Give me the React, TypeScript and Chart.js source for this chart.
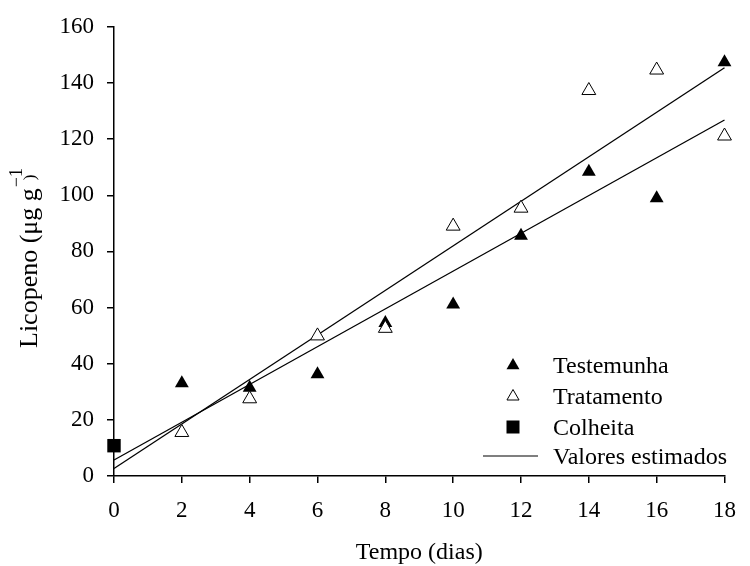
import React, { useEffect, useRef } from 'react';
import { Chart, registerables } from 'chart.js';
Chart.register(...registerables);

// ---- data ----
const days = [2, 4, 6, 8, 10, 12, 14, 16, 18];
const testemunha = [33, 31.4, 36.2, 54.5, 61.1, 85.6, 108.4, 98.9, 147.4];
const tratamento = [15.5, 27.5, 49.9, 52.6, 89, 95.4, 137.3, 144.6, 121.1];
const colheitaDays = [0];
const colheita = [10.8];
const lineDays = [0, 18];
const estimadoA = [2.7, 145.4];
const estimadoB = [5.7, 126.8];
const xTicks = [0, 2, 4, 6, 8, 10, 12, 14, 16, 18];
const yTicks = [0, 20, 40, 60, 80, 100, 120, 140, 160];
const xTitle = 'Tempo (dias)';
const yTitleMain = 'Licopeno (\u03bcg g';
const yTitleSup = '\u22121';
const yTitleEnd = ')';
const legendLabels = ['Testemunha', 'Tratamento', 'Colheita', 'Valores estimados'];

const FONT = '"Liberation Serif", "Times New Roman", serif';

const toPts = (xs: number[], ys: number[]) => xs.map((x, i) => ({ x, y: ys[i] }));

function drawTri(ctx: CanvasRenderingContext2D, cx: number, cy: number, r: number, fill: boolean) {
  const hw = r * Math.sqrt(3) / 2;
  ctx.beginPath();
  ctx.moveTo(cx, cy - r);
  ctx.lineTo(cx + hw, cy + r / 2);
  ctx.lineTo(cx - hw, cy + r / 2);
  ctx.closePath();
  if (fill) {
    ctx.fillStyle = '#000';
    ctx.fill();
  } else {
    ctx.fillStyle = '#fff';
    ctx.fill();
    ctx.strokeStyle = '#000';
    ctx.lineWidth = 1;
    ctx.stroke();
  }
}

const decorPlugin = {
  id: 'decor',
  afterDraw(chart: any) {
    const ctx: CanvasRenderingContext2D = chart.ctx;
    const area = chart.chartArea;
    ctx.save();
    ctx.fillStyle = '#000';
    ctx.textBaseline = 'alphabetic';
    // x title
    ctx.font = `24px ${FONT}`;
    ctx.textAlign = 'center';
    ctx.fillText(xTitle, (area.left + area.right) / 2, 559);
    // y title (rotated)
    ctx.save();
    ctx.translate(37, 348);
    ctx.rotate(-Math.PI / 2);
    ctx.textAlign = 'left';
    ctx.font = `26px ${FONT}`;
    ctx.fillText(yTitleMain, 0, 0);
    const w = ctx.measureText(yTitleMain).width;
    ctx.font = `18px ${FONT}`;
    ctx.fillText(yTitleSup, w + 1, -15);
    ctx.font = `17px ${FONT}`;
    ctx.fillText(yTitleEnd, w + 8, -2);
    ctx.restore();
    // legend
    const mx = 513;
    const tx = 553;
    const rows = [364.5, 395.5, 426.5, 456];
    drawTri(ctx, mx, rows[0] + 1, 7.5, true);
    drawTri(ctx, mx, rows[1] + 1, 7, false);
    ctx.fillStyle = '#000';
    ctx.fillRect(mx - 6.5, rows[2] - 6, 13, 13);
    ctx.strokeStyle = '#000';
    ctx.lineWidth = 1.2;
    ctx.beginPath();
    ctx.moveTo(483, rows[3]);
    ctx.lineTo(538, rows[3]);
    ctx.stroke();
    ctx.font = `24px ${FONT}`;
    ctx.textAlign = 'left';
    ctx.fillStyle = '#000';
    legendLabels.forEach((t, i) => ctx.fillText(t, tx, rows[i] + 8));
    ctx.restore();
  },
};

export default function App() {
  const ref = useRef<HTMLCanvasElement>(null);
  useEffect(() => {
    if (!ref.current) return;
    const tickFont = { family: FONT, size: 23 };
    const chart = new Chart(ref.current, {
      type: 'scatter',
      data: {
        datasets: [
          {
            label: 'Valores estimados A',
            data: toPts(lineDays, estimadoA),
            showLine: true,
            pointRadius: 0,
            borderColor: '#000',
            borderWidth: 1.3,
            clip: false,
            order: 5,
          },
          {
            label: 'Valores estimados B',
            data: toPts(lineDays, estimadoB),
            showLine: true,
            pointRadius: 0,
            borderColor: '#000',
            borderWidth: 1.3,
            clip: false,
            order: 4,
          },
          {
            label: 'Testemunha',
            data: toPts(days, testemunha),
            pointStyle: 'triangle',
            pointRadius: 8,
            backgroundColor: '#000',
            borderColor: '#000',
            borderWidth: 0,
            clip: false,
            order: 2,
          },
          {
            label: 'Tratamento',
            data: toPts(days, tratamento),
            pointStyle: 'triangle',
            pointRadius: 8,
            backgroundColor: '#fff',
            borderColor: '#000',
            borderWidth: 1,
            clip: false,
            order: 1,
          },
          {
            label: 'Colheita',
            data: toPts(colheitaDays, colheita),
            pointStyle: 'rect',
            pointRadius: 9.5,
            backgroundColor: '#000',
            borderColor: '#000',
            borderWidth: 0,
            clip: false,
            order: 0,
          },
        ],
      },
      options: {
        responsive: false,
        animation: false,
        layout: { padding: { top: 25, right: 14, left: 0, bottom: 0 } },
        plugins: { legend: { display: false }, tooltip: { enabled: false }, title: { display: false } },
        scales: {
          x: {
            type: 'linear',
            min: 0,
            max: 18,
            afterBuildTicks: (s: any) => { s.ticks = xTicks.map((v) => ({ value: v })); },
            afterFit: (s: any) => { s.height = 90; },
            ticks: { color: '#000', font: tickFont, padding: 14, maxRotation: 0, autoSkip: false },
            grid: { display: true, drawOnChartArea: false, drawTicks: true, tickLength: 7, color: '#000', lineWidth: 1.5 },
            border: { display: true, color: '#000', width: 1.5 },
          },
          y: {
            type: 'linear',
            min: 0,
            max: 160,
            afterBuildTicks: (s: any) => { s.ticks = yTicks.map((v) => ({ value: v })); },
            afterFit: (s: any) => { s.width = 114; },
            ticks: { color: '#000', font: tickFont, padding: 13, autoSkip: false },
            grid: { display: true, drawOnChartArea: false, drawTicks: true, tickLength: 7, color: '#000', lineWidth: 1.5 },
            border: { display: true, color: '#000', width: 1.5 },
          },
        },
      },
      plugins: [decorPlugin],
    } as any);
    return () => chart.destroy();
  }, []);
  return (
    <div style={{ position: 'absolute', left: 0, top: 0, width: 750, height: 566, background: '#fff' }}>
      <canvas ref={ref} width={750} height={566} />
    </div>
  );
}
